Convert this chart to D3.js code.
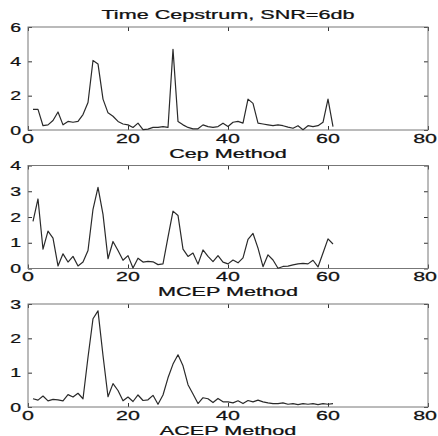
<!DOCTYPE html>
<html>
<head>
<meta charset="utf-8">
<script src="https://cdn.jsdelivr.net/npm/d3@7/dist/d3.min.js"></script>
<style>
  html, body { margin: 0; padding: 0; background: #fff; }
  svg { display: block; }
  text { font-family: "Liberation Sans", Arial, Helvetica, sans-serif; fill: #111; stroke: #111; stroke-width: 0.25; }
</style>
</head>
<body>
<svg id="chart" width="438" height="436"></svg>
<script>
// Quefrency index (samples)
const quefrency = d3.range(1, 62);

// Cepstrum magnitudes for each estimation method
const cepValues = [
  1.2, 1.2, 0.25, 0.3, 0.55, 1.05, 0.3, 0.5, 0.45, 0.5,
  0.9, 1.6, 4.05, 3.85, 1.8, 1.0, 0.8, 0.5, 0.35, 0.3,
  0.15, 0.4, 0.02, 0.05, 0.15, 0.15, 0.2, 0.15, 4.7, 0.5,
  0.3, 0.15, 0.07, 0.07, 0.3, 0.2, 0.15, 0.2, 0.4, 0.2,
  0.45, 0.5, 0.4, 1.8, 1.55, 0.4, 0.35, 0.3, 0.25, 0.3,
  0.25, 0.17, 0.1, 0.25, 0.02, 0.25, 0.2, 0.25, 0.45, 1.8,
  0.2
];
const mcepValues = [
  1.83, 2.7, 0.75, 1.45, 1.18, 0.1, 0.57, 0.25, 0.47, 0.1,
  0.25, 0.7, 2.3, 3.15, 2.1, 0.38, 1.05, 0.7, 0.32, 0.5,
  0.02, 0.4, 0.25, 0.28, 0.26, 0.15, 0.18, 1.22, 2.23, 2.06,
  0.75, 0.47, 0.6, 0.17, 0.72, 0.47, 0.27, 0.5, 0.25, 0.18,
  0.33, 0.22, 0.41, 1.13, 1.36, 0.79, 0.07, 0.53, 0.33, 0.01,
  0.08, 0.09, 0.14, 0.18, 0.2, 0.18, 0.32, 0.06, 0.6, 1.15,
  0.95
];
const acepValues = [
  0.24, 0.2, 0.32, 0.18, 0.22, 0.21, 0.18, 0.36, 0.29, 0.4,
  0.24, 1.45, 2.57, 2.8, 1.5, 0.3, 0.68, 0.48, 0.18, 0.29,
  0.16, 0.35, 0.19, 0.21, 0.34, 0.08, 0.35, 0.85, 1.25, 1.52,
  1.2, 0.65, 0.38, 0.1, 0.27, 0.24, 0.13, 0.25, 0.15, 0.15,
  0.12, 0.18, 0.1, 0.19, 0.15, 0.2, 0.15, 0.12, 0.1, 0.1,
  0.12, 0.08, 0.1, 0.07, 0.1, 0.08, 0.1, 0.07, 0.1, 0.08,
  0.1
];

const seriesList = [cepValues, mcepValues, acepValues];
const methodLabels = ["Cep Method", "MCEP Method", "ACEP Method"];
const chartTitle = "Time Cepstrum, SNR=6db";
const yMaxima = [6, 4, 3];
const yTickLists = [[0, 2, 4, 6], [0, 1, 2, 3, 4], [0, 1, 2, 3]];
const xTickList = [0, 20, 40, 60, 80];

const svg = d3.select("#chart");
const W = 438;
const left = 28, right = 428;
const panelTops = [27, 165.5, 304];
const panelH = 103;
const tickLen = 4;
const stretch = 1.8;

const x = d3.scaleLinear().domain([0, 80]).range([left, right]);

// text drawn with a horizontal stretch; keeps it inside the canvas
function wideText(g, str, cx, cy, anchor, size, sx) {
  const t = g.append("text")
    .attr("transform", `translate(${cx},${cy}) scale(${sx},1)`)
    .attr("text-anchor", anchor)
    .style("font-size", size + "px")
    .text(str);
  if (anchor === "middle") {
    const half = t.node().getComputedTextLength() * sx / 2;
    const px = Math.min(cx, W - 1 - half);
    t.attr("transform", `translate(${px},${cy}) scale(${sx},1)`);
  }
  return t;
}

// Overall title
wideText(svg, chartTitle, (left + right) / 2, 18.5, "middle", 12, stretch);

seriesList.forEach((vals, i) => {
  const top = panelTops[i], bottom = top + panelH;
  const y = d3.scaleLinear().domain([0, yMaxima[i]]).range([bottom, top]);
  const g = svg.append("g");

  // inward ticks on all four sides
  const axes = [
    [d3.axisBottom(x).tickValues(xTickList), `translate(0,${top})`],
    [d3.axisTop(x).tickValues(xTickList), `translate(0,${bottom})`],
    [d3.axisRight(y).tickValues(yTickLists[i]), `translate(${left},0)`],
    [d3.axisLeft(y).tickValues(yTickLists[i]), `translate(${right},0)`]
  ];
  axes.forEach(([ax, tr]) => {
    const a = g.append("g").attr("transform", tr)
      .call(ax.tickSize(tickLen).tickFormat(""));
    a.select(".domain").remove();
    a.selectAll("line").attr("stroke", "#333").attr("stroke-width", 1);
  });

  // frame
  g.append("rect")
    .attr("x", left).attr("y", top)
    .attr("width", right - left).attr("height", panelH)
    .attr("fill", "none").attr("stroke", "#777").attr("stroke-width", 1);

  // tick labels
  xTickList.forEach(t => wideText(g, String(t), x(t), bottom + 12.5, "middle", 13, 1.65));
  yTickLists[i].forEach(t => wideText(g, String(t), 21, y(t) + 4.5, "end", 13, 1.5));

  // cepstrum trace
  const line = d3.line().x((d, k) => x(quefrency[k])).y(d => y(d));
  g.append("path")
    .datum(vals)
    .attr("d", line)
    .attr("fill", "none")
    .attr("stroke", "#2a2a2a")
    .attr("stroke-width", 1.2)
    .attr("stroke-linejoin", "round");

  // method label under each panel
  wideText(g, methodLabels[i], (left + right) / 2, bottom + 27.5, "middle", 12, stretch);
});
</script>
</body>
</html>
